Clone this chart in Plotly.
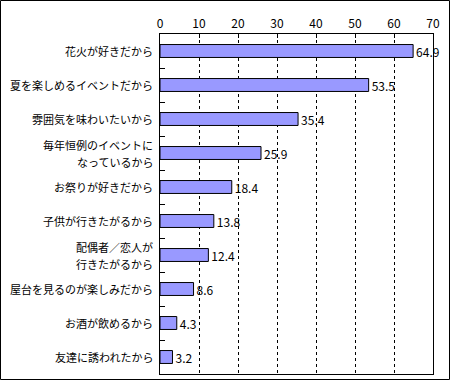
import plotly.graph_objects as go

categories = [
    "花火が好きだから",
    "夏を楽しめるイベントだから",
    "雰囲気を味わいたいから",
    "毎年恒例のイベントに<br>なっているから",
    "お祭りが好きだから",
    "子供が行きたがるから",
    "配偶者／恋人が<br>行きたがるから",
    "屋台を見るのが楽しみだから",
    "お酒が飲めるから",
    "友達に誘われたから",
]
values = [64.9, 53.5, 35.4, 25.9, 18.4, 13.8, 12.4, 8.6, 4.3, 3.2]
x_ticks = [0, 10, 20, 30, 40, 50, 60, 70]

FONT = "Noto Sans CJK JP"

fig = go.Figure(go.Bar(
    x=values,
    y=categories,
    orientation="h",
    marker=dict(color="#9999FF", line=dict(color="black", width=1)),
    text=[f"{v:.1f}" for v in values],
    textposition="outside",
    constraintext="none",
    textfont=dict(family=FONT, size=12, color="black"),
    cliponaxis=False,
))

W, H = 450, 380
ml, mr, mt, mb = 160, 17, 34, 6
pw, ph = W - ml - mr, H - mt - mb

# category labels as annotations (allows wider line spacing for 2-line labels)
annotations = []
for cat in categories:
    lines = cat.split("<br>")
    n = len(lines)
    for i, line in enumerate(lines):
        annotations.append(dict(
            x=0, xref="paper", y=cat, yref="y",
            text=line, showarrow=False,
            xanchor="right", yanchor="middle",
            xshift=-5, yshift=((n - 1) / 2 - i) * 17,
            font=dict(family=FONT, size=11, color="black"),
        ))

fig.update_layout(
    width=W, height=H,
    margin=dict(l=ml, r=mr, t=mt, b=mb, pad=0, autoexpand=False),
    paper_bgcolor="white",
    plot_bgcolor="white",
    bargap=0.62,
    showlegend=False,
    font=dict(family=FONT, size=12, color="black"),
    xaxis=dict(
        side="top",
        range=[0, 70],
        tickvals=x_ticks,
        ticks="inside",
        ticklen=4,
        tickcolor="black",
        showgrid=True,
        gridcolor="black",
        griddash="3px,3px",
        gridwidth=1,
        showline=True,
        linecolor="black",
        linewidth=1,
        mirror=True,
        zeroline=False,
        automargin=False,
        tickfont=dict(family=FONT, size=12, color="black"),
    ),
    yaxis=dict(
        autorange="reversed",
        ticks="inside",
        tickson="boundaries",
        ticklen=5,
        tickcolor="black",
        showline=True,
        linecolor="black",
        linewidth=1,
        mirror=True,
        showgrid=False,
        automargin=False,
        showticklabels=False,
    ),
    annotations=annotations,
    shapes=[dict(
        type="rect", xref="paper", yref="paper",
        x0=(0.5 - ml) / pw, x1=(W - 0.5 - ml) / pw,
        y0=-(mb - 0.5) / ph, y1=1 + (mt - 0.5) / ph,
        line=dict(color="black", width=1), fillcolor="rgba(0,0,0,0)",
        layer="above",
    )],
)

fig.write_html(
    "out.html",
    config={"displayModeBar": False},
    post_script="document.body.style.margin='0';document.body.style.padding='0';document.body.style.overflow='hidden';",
)
